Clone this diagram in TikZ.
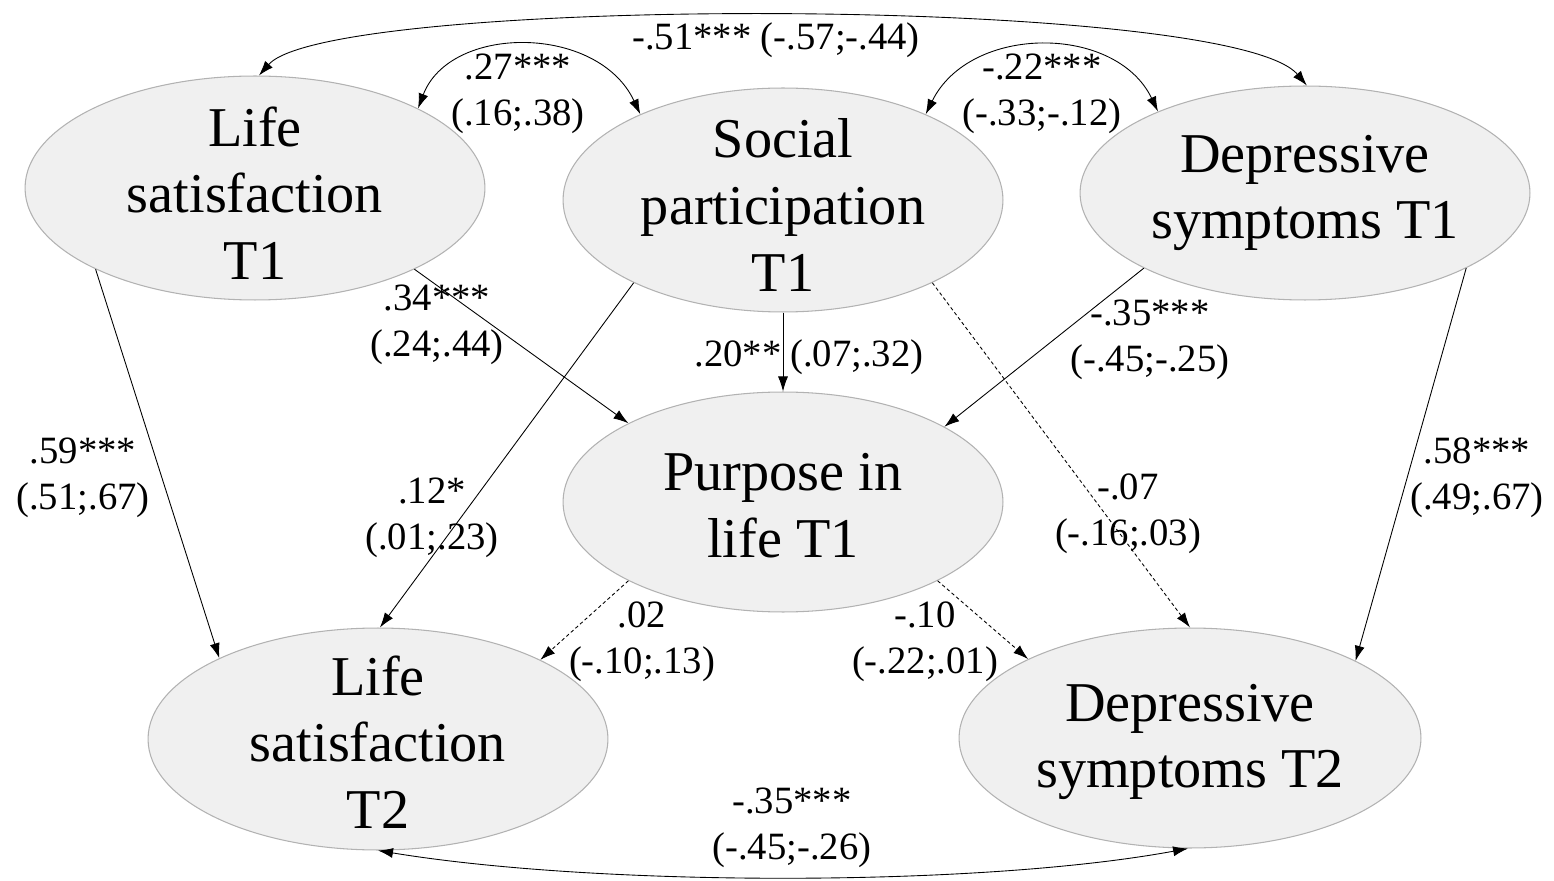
\documentclass[tikz,border=0pt]{standalone}
\usepackage{fontspec}
\setmainfont{Liberation Serif}
\usetikzlibrary{
    shapes.geometric,
    arrows.meta
}

\begin{document}
\begin{tikzpicture}[
    x=0.02cm, y=-0.02cm,
    latent/.style={
        draw=gray!60,
        fill=gray!12,
        line width=0.6pt,
        ellipse,
        inner sep=0pt
    },
    vartext/.style={
        align=center,
        anchor=center,
        font=\fontsize{32}{38}\selectfont
    },
    coef/.style={
        align=center,
        anchor=center,
        font=\fontsize{22}{26}\selectfont
    },
    arr/.style={
        -{Latex[length=3mm,width=2mm]},
        line width=0.5pt
    },
    ns/.style={
        arr,
        dash pattern=on 2pt off 1.5pt
    },
    cov/.style={
        {Latex[length=3mm,width=2mm]}-{Latex[length=3mm,width=2mm]},
        line width=0.5pt
    }]
    \useasboundingbox (0,0) rectangle (1554,881);

    \node[latent, minimum width=9.2cm, minimum height=4.48cm] (ls1) at (255,188) {};
    \node[latent, minimum width=8.8cm, minimum height=4.48cm] (sp1) at (783,200) {};
    \node[latent, minimum width=9.0cm, minimum height=4.28cm] (ds1) at (1305,193) {};
    \node[latent, minimum width=8.8cm, minimum height=4.4cm] (pil) at (783,502) {};
    \node[latent, minimum width=9.2cm, minimum height=4.44cm] (ls2) at (378,739) {};
    \node[latent, minimum width=9.24cm, minimum height=4.4cm] (ds2) at (1190,738) {};

    \node[vartext] (ls1t) at (255,193) {Life\\satisfaction\\T1};
    \node[vartext] (sp1t) at (783,205) {Social\\participation\\T1};
    \node[vartext] (ds1t) at (1305,193) {Depressive\\symptoms T1};
    \node[vartext] (pilt) at (783,506) {Purpose in\\life T1};
    \node[vartext] (ls2t) at (378,742) {Life\\satisfaction\\T2};
    \node[vartext] (ds2t) at (1190,742) {Depressive\\symptoms T2};

    % paths
    \draw[arr] (ls1.207) -- (ls2.153.6);
    \draw[arr] (ls1.333) -- (pil.153);
    \draw[arr] (sp1.270) -- (pil.90);
    \draw[arr] (sp1.209) -- (ls2.89);
    \draw[ns] (sp1.331) -- (ds2.90);
    \draw[arr] (ds1.205) -- (pil.25.4);
    \draw[arr] (ds1.335) -- (ds2.25.3);
    \draw[ns] (pil.207) -- (ls2.26);
    \draw[ns] (pil.333) -- (ds2.154);

    % covariances
    \draw[cov] (ls1.88) .. controls (330,-5) and (1230,-5) .. (ds1.89);
    \draw[cov] (ls1.26) .. controls (450,24) and (598,24) .. (sp1.149);
    \draw[cov] (sp1.31) .. controls (970,24) and (1116,24) .. (ds1.151);
    \draw[cov] (ls2.270) .. controls (600,887) and (980,887) .. (ds2.269);

    \node[coef] (c27) at (518,94) {.27***\\(.16;.38)};
    \node[coef] (c51) at (776,40) {-.51*** (-.57;-.44)};
    \node[coef] (c22) at (1042,94) {-.22***\\(-.33;-.12)};
    \node[coef] (c34) at (437,325) {.34***\\(.24;.44)};
    \node[coef] (c20) at (809,357) {.20**\hspace{5pt}(.07;.32)};
    \node[coef] (c35a) at (1150,340) {-.35***\\(-.45;-.25)};
    \node[coef] (c59) at (83,478) {.59***\\(.51;.67)};
    \node[coef] (c12) at (432,518) {.12*\\(.01;.23)};
    \node[coef] (c07) at (1128,514) {-.07\\(-.16;.03)};
    \node[coef] (c58) at (1477,478) {.58***\\(.49;.67)};
    \node[coef] (c02) at (642,642) {.02\\(-.10;.13)};
    \node[coef] (c10) at (925,642) {-.10\\(-.22;.01)};
    \node[coef] (c35b) at (792,828) {-.35***\\(-.45;-.26)};

\end{tikzpicture}
\end{document}
